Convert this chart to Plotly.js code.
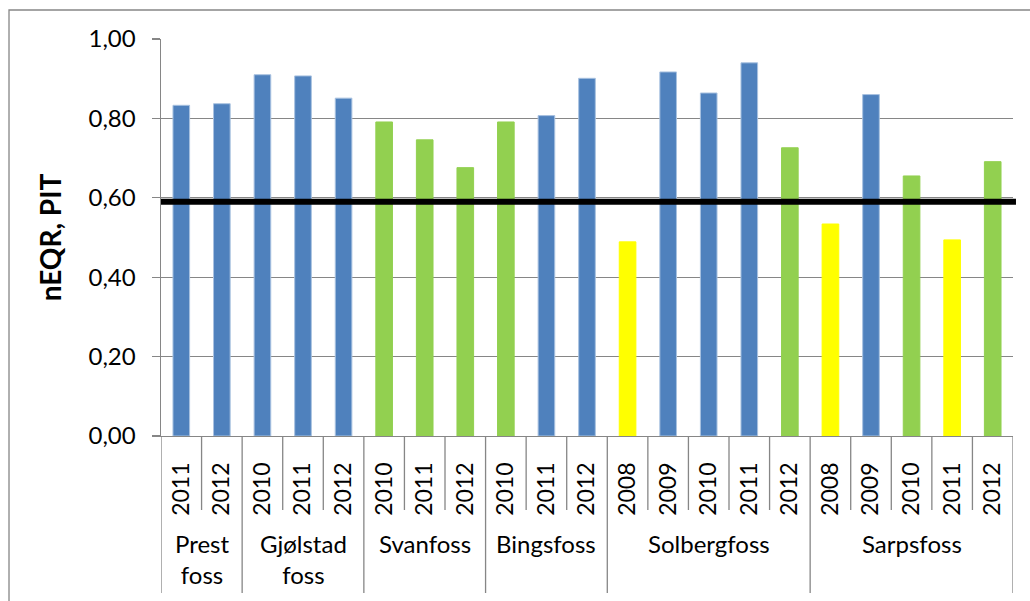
<!DOCTYPE html>
<html>
<head>
<meta charset="utf-8">
<script src="https://cdn.plot.ly/plotly-3.0.1.min.js"></script>
<style>
  html, body { margin: 0; padding: 0; background: #ffffff; }
  #chart { width: 1030px; height: 601px; }
</style>
</head>
<body>
<div id="chart"></div>
<script>
// ---- data ----
const groups = ['Prest<br>foss', 'Gjølstad<br>foss', 'Svanfoss', 'Bingsfoss', 'Solbergfoss', 'Sarpsfoss'];
const groupYears = [
  ['2011', '2012'],
  ['2010', '2011', '2012'],
  ['2010', '2011', '2012'],
  ['2010', '2011', '2012'],
  ['2008', '2009', '2010', '2011', '2012'],
  ['2008', '2009', '2010', '2011', '2012']
];
const values = [0.833, 0.837, 0.910, 0.907, 0.851, 0.791, 0.746, 0.676, 0.791, 0.807, 0.901,
                0.489, 0.917, 0.864, 0.940, 0.726, 0.534, 0.860, 0.655, 0.494, 0.691];
const classes = ['high', 'high', 'high', 'high', 'high', 'good', 'good', 'good', 'good', 'high', 'high',
                 'moderate', 'high', 'high', 'high', 'good', 'moderate', 'high', 'good', 'moderate', 'good'];
const threshold = 0.59;
const yTicks = [0, 0.2, 0.4, 0.6, 0.8, 1.0];

// ---- styles ----
const classColor = { high: '#4F81BD', good: '#92D050', moderate: '#FFFF00' };
const classLine = { high: '#A9C2E0', good: '#92D050', moderate: '#FFFF00' };
const FONT = 'Lato, "Open Sans", sans-serif';
const GRAY = '#868686';

// build categories
const cats = [], ticktext = [];
const groupStart = [], groupEnd = [];
let idx = 0;
groups.forEach((g, gi) => {
  groupStart.push(idx);
  groupYears[gi].forEach(y => {
    cats.push(g.replace('<br>', ' ') + ' ' + y);
    ticktext.push(y);
    idx++;
  });
  groupEnd.push(idx - 1);
});

const trace = {
  type: 'bar',
  x: cats,
  y: values,
  marker: {
    color: classes.map(c => classColor[c]),
    line: { color: classes.map(c => classLine[c]), width: 1 }
  },
  hoverinfo: 'x+y'
};

// plot geometry helpers (paper units)
const plotH = 601 - 39 - 165;
const py = (pix) => -(pix - 436) / plotH;

const shapes = [];
// year dividers (within groups)
groups.forEach((g, gi) => {
  for (let i = groupStart[gi] + 1; i <= groupEnd[gi]; i++) {
    shapes.push({ type: 'line', xref: 'x', yref: 'paper', x0: i - 0.5, x1: i - 0.5,
      y0: 0, y1: py(510), line: { color: GRAY, width: 1.3 } });
  }
});
// group dividers
const bounds = [groupStart[0] - 0.5].concat(groupEnd.map(e => e + 0.5));
bounds.forEach(b => {
  shapes.push({ type: 'line', xref: 'x', yref: 'paper', x0: b, x1: b,
    y0: 0, y1: py(593), line: { color: GRAY, width: 1.3 } });
});
// threshold line
shapes.push({ type: 'line', xref: 'paper', yref: 'y', x0: 0, x1: 1.0035,
  y0: threshold, y1: threshold, line: { color: '#000000', width: 6 } });
// chart frame
shapes.push({ type: 'rect', xref: 'paper', yref: 'paper', x0: -0.1784, x1: 1.2,
  y0: py(10), y1: py(700), line: { color: GRAY, width: 1.3 }, fillcolor: 'rgba(0,0,0,0)' });

const annotations = groups.map((g, gi) => ({
  xref: 'x', yref: 'paper',
  x: (groupStart[gi] + groupEnd[gi]) / 2,
  y: py(527),
  yanchor: 'top', xanchor: 'center',
  text: g, showarrow: false,
  font: { family: FONT, size: 24, color: '#000000' }
}));

const layout = {
  width: 1030, height: 601,
  margin: { l: 161, r: 17, t: 39, b: 165 },
  paper_bgcolor: '#ffffff', plot_bgcolor: '#ffffff',
  separators: ', ',
  showlegend: false,
  bargap: 0.59,
  font: { family: FONT, size: 24, color: '#000000' },
  xaxis: {
    type: 'category',
    categoryorder: 'array', categoryarray: cats,
    tickvals: cats, ticktext: ticktext,
    tickangle: -90,
    ticks: '',
    ticklabelstandoff: 16,
    showgrid: false,
    showline: true, linecolor: GRAY, linewidth: 1.3,
    tickfont: { family: FONT, size: 23, color: '#000000' },
    range: [-0.5, cats.length - 0.5],
    fixedrange: true
  },
  yaxis: {
    range: [0, 1],
    tickvals: yTicks,
    tickformat: '.2f',
    ticks: 'outside', ticklen: 8, tickcolor: GRAY, tickwidth: 1.3,
    ticklabelstandoff: 11,
    showgrid: true, gridcolor: GRAY, gridwidth: 1.3,
    zeroline: false,
    showline: true, linecolor: GRAY, linewidth: 1.5,
    tickfont: { family: FONT, size: 24, color: '#000000' },
    title: { text: '<b>nEQR, PIT</b>', font: { family: FONT, size: 28, color: '#000000' }, standoff: 18 },
    fixedrange: true
  },
  shapes: shapes,
  annotations: annotations
};

Plotly.newPlot('chart', [trace], layout, { displayModeBar: false, staticPlot: true });
</script>
</body>
</html>
